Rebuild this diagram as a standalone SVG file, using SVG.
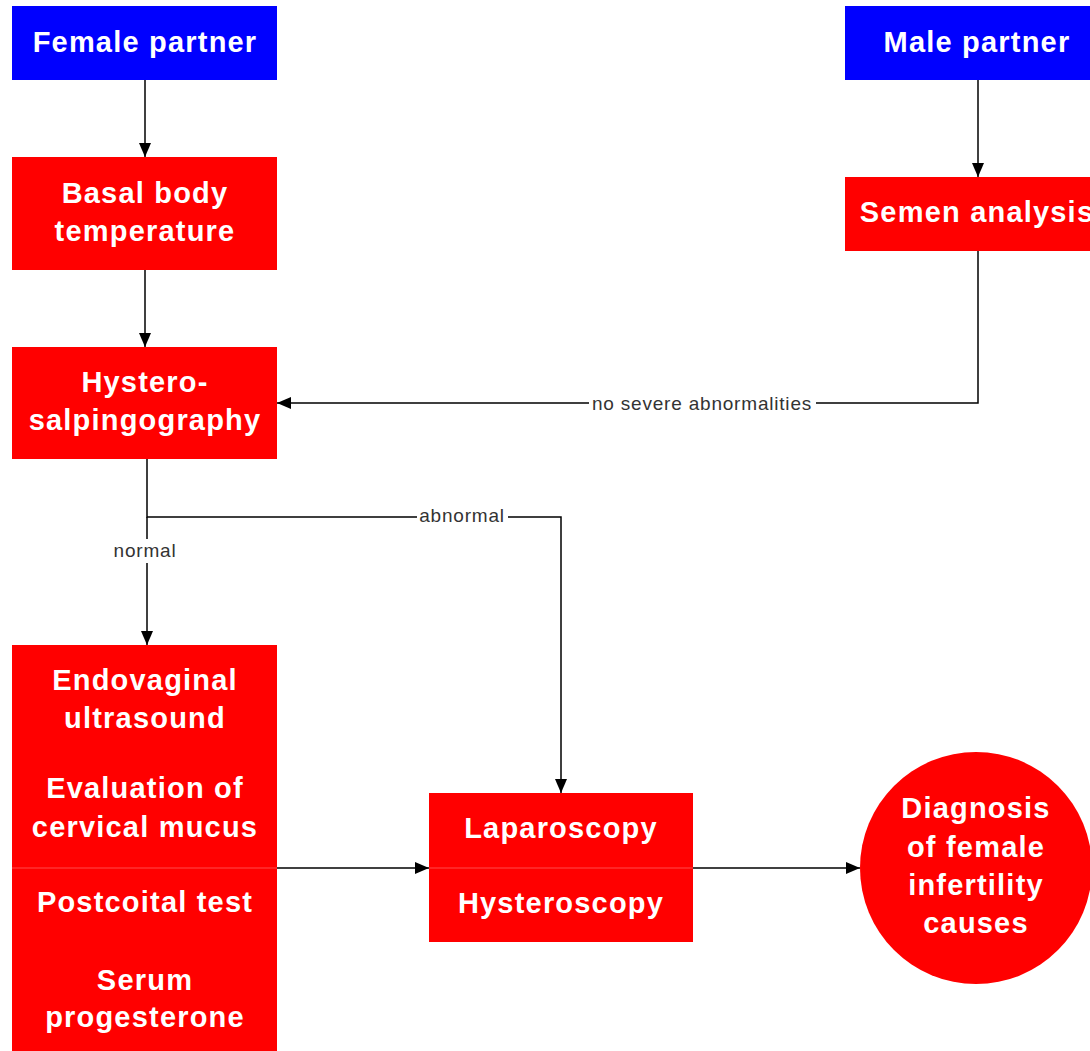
<svg xmlns="http://www.w3.org/2000/svg" width="1090" height="1051" viewBox="0 0 1090 1051">
  <style>
    .blue { fill: #0000ff; }
    .red { fill: #ff0000; }
    .nt { font-family: "Liberation Sans", Arial, sans-serif; font-weight: bold; font-size: 29px; letter-spacing: 1.2px; fill: #ffffff; text-anchor: middle; }
    .edge { stroke: #000000; stroke-width: 1.5; fill: none; }
    .lbl { font-family: "Liberation Sans", Arial, sans-serif; font-size: 19px; letter-spacing: 0.8px; fill: #333333; text-anchor: middle; }
    .lblbg { fill: #ffffff; }
    .divider { stroke: #ff4a4a; stroke-width: 1; }
  </style>
  <defs>
    <marker id="arrow" viewBox="0 0 14 12" refX="14" refY="6" markerWidth="14" markerHeight="12" markerUnits="userSpaceOnUse" orient="auto">
      <path d="M0,0 L14,6 L0,12 Z" fill="#000000"/>
    </marker>
  </defs>

  <rect width="1090" height="1051" fill="#ffffff"/>

  <!-- connectors -->
  <g id="connectors">
    <path class="edge" d="M145,80 V157" marker-end="url(#arrow)"/>
    <path class="edge" d="M978,80 V177" marker-end="url(#arrow)"/>
    <path class="edge" d="M145,270 V347" marker-end="url(#arrow)"/>
    <path class="edge" d="M978,251 V403 H277" marker-end="url(#arrow)"/>
    <path class="edge" d="M147,459 V517 H561 V793" marker-end="url(#arrow)"/>
    <path class="edge" d="M147,517 V645" marker-end="url(#arrow)"/>
    <path class="edge" d="M277,868 H429" marker-end="url(#arrow)"/>
    <path class="edge" d="M693,868 H860" marker-end="url(#arrow)"/>

    <rect class="lblbg" x="589" y="394" width="227" height="19"/>
    <text class="lbl" x="702" y="410">no severe abnormalities</text>
    <rect class="lblbg" x="417" y="507" width="91" height="19"/>
    <text class="lbl" x="462" y="522">abnormal</text>
    <rect class="lblbg" x="110" y="539" width="70" height="24"/>
    <text class="lbl" x="145" y="557">normal</text>
  </g>

  <g id="female-partner">
    <rect class="blue" x="12" y="6" width="265" height="74"/>
    <text class="nt" x="145" y="52">Female partner</text>
  </g>

  <g id="male-partner">
    <rect class="blue" x="845" y="6" width="265" height="74"/>
    <text class="nt" x="977" y="52">Male partner</text>
  </g>

  <g id="basal-body-temperature">
    <rect class="red" x="12" y="157" width="265" height="113"/>
    <text class="nt" x="145" y="203">Basal body</text>
    <text class="nt" x="145" y="241">temperature</text>
  </g>

  <g id="semen-analysis">
    <rect class="red" x="845" y="177" width="265" height="74"/>
    <text class="nt" x="977" y="222">Semen analysis</text>
  </g>

  <g id="hysterosalpingography">
    <rect class="red" x="12" y="347" width="265" height="112"/>
    <text class="nt" x="145" y="392">Hystero-</text>
    <text class="nt" x="145" y="430">salpingography</text>
  </g>

  <g id="female-tests">
    <rect class="red" x="12" y="645" width="265" height="406"/>
    <line class="divider" x1="12" y1="868" x2="277" y2="868"/>
    <text class="nt" x="145" y="690">Endovaginal</text>
    <text class="nt" x="145" y="728">ultrasound</text>
    <text class="nt" x="145" y="798">Evaluation of</text>
    <text class="nt" x="145" y="837">cervical mucus</text>
    <text class="nt" x="145" y="912">Postcoital test</text>
    <text class="nt" x="145" y="990">Serum</text>
    <text class="nt" x="145" y="1027">progesterone</text>
  </g>

  <g id="laparoscopy-hysteroscopy">
    <rect class="red" x="429" y="793" width="264" height="149"/>
    <line class="divider" x1="429" y1="868" x2="693" y2="868"/>
    <text class="nt" x="561" y="838">Laparoscopy</text>
    <text class="nt" x="561" y="913">Hysteroscopy</text>
  </g>

  <g id="diagnosis">
    <circle class="red" cx="976" cy="868" r="116"/>
    <text class="nt" x="976" y="818">Diagnosis</text>
    <text class="nt" x="976" y="857">of female</text>
    <text class="nt" x="976" y="895">infertility</text>
    <text class="nt" x="976" y="933">causes</text>
  </g>
</svg>
